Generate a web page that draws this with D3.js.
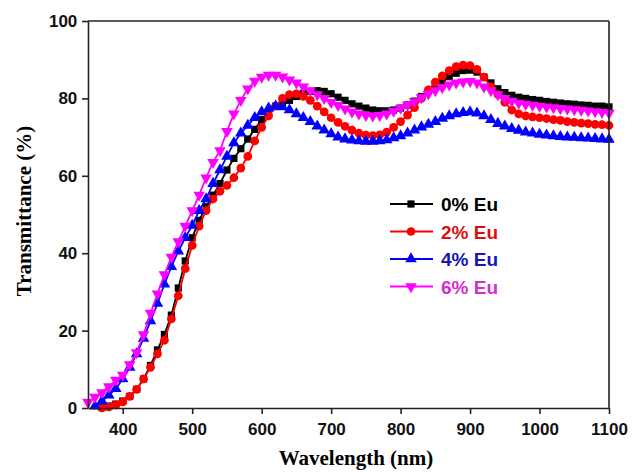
<!DOCTYPE html>
<html>
<head>
<meta charset="utf-8">
<script src="https://cdn.jsdelivr.net/npm/d3@7"></script>
<style>
  body { margin: 0; background: #fff; }
  svg { display: block; }
</style>
</head>
<body>
<script>
// Transmittance spectra, Eu doped films
var wl0 = d3.range(370, 1101, 10);   // 0% and 2% start at 370 nm
var wl4 = d3.range(360, 1101, 10);
var wl6 = d3.range(350, 1101, 10);

var eu0 = [0.2, 0.5, 1, 1.8, 3, 4.8, 7.5, 11, 15, 19, 24, 31, 38, 44, 48.5, 52, 55, 58, 61.5, 64.5,
  67, 69.5, 72, 74.5, 76.5, 78, 78.8, 79.5, 80.5, 81.3, 81.8, 82, 81.8, 81.2, 80.3, 79.5, 78.6, 78, 77.5, 77,
  76.8, 76.8, 77, 77.5, 78.3, 79.3, 80.5, 82, 83.3, 84.5, 85.6, 86.5, 87.2, 87.3, 86.8, 85.5, 84, 82.5, 81.5, 80.8,
  80.3, 80, 79.7, 79.5, 79.2, 79, 78.8, 78.6, 78.5, 78.3, 78.2, 78, 78, 77.8];
var eu2 = [0, 0.3, 0.8, 1.6, 3, 4.8, 7.5, 10.5, 14, 17.5, 23, 29, 36, 42, 47, 51, 54, 56, 57.5, 59.5,
  62, 65, 69, 72.5, 75.5, 78, 80, 81, 81.2, 80.5, 79.5, 78, 76.5, 75, 73.8, 72.8, 71.8, 71, 70.5, 70.4,
  70.6, 71.3, 72.5, 74, 75.7, 77.6, 80, 82.2, 84.2, 85.8, 87.2, 88.2, 88.6, 88.5, 87.5, 85.5, 83, 81, 79, 77,
  76, 75.5, 75.2, 75, 74.8, 74.5, 74.3, 74, 73.8, 73.6, 73.5, 73.3, 73.2, 73];
var eu4 = [0.5, 1.8, 3.3, 5, 7.5, 10.5, 14, 18, 22.5, 27, 32, 36.5, 40.5, 44, 47.2, 51, 54, 58, 61.5, 65,
  68.5, 71, 73, 75, 76.5, 77.5, 78, 77.8, 77, 76, 75, 74, 72.8, 71.8, 70.8, 70, 69.5, 69.2, 69, 68.9,
  68.9, 69, 69.3, 69.8, 70.3, 71, 71.8, 72.6, 73.3, 74, 74.8, 75.5, 76, 76.3, 76.5, 76.2, 75.5, 74.5, 73.5, 72.8,
  72.2, 71.7, 71.3, 71, 70.7, 70.5, 70.3, 70.1, 70, 69.9, 69.8, 69.7, 69.6, 69.5, 69.4];
var eu6 = [1.5, 2.8, 4, 5.5, 7.2, 8.5, 11.2, 14.3, 19, 24.5, 29.5, 34.5, 39, 43, 47, 51, 55, 59.5, 63.5, 66.5,
  71.5, 76, 79.5, 82.5, 84.5, 85.5, 86, 86, 85.6, 84.8, 84, 83, 82, 81, 80, 79, 78.2, 77.3, 76.5, 76,
  75.6, 75.5, 75.6, 76, 76.7, 77.5, 78.3, 79.2, 80.2, 81.2, 82, 82.8, 83.5, 84, 84.3, 84.4, 84, 83, 82, 81,
  80, 79.3, 78.8, 78.5, 78.3, 78, 77.8, 77.6, 77.4, 77.3, 77.1, 77, 76.8, 76.6, 76.4, 76.2];

var names = ["0% Eu", "2% Eu", "4% Eu", "6% Eu"];
var xTicks = [400, 500, 600, 700, 800, 900, 1000, 1100];
var yTicks = [0, 20, 40, 60, 80, 100];

var series = [
  { name: names[0], x: wl0, y: eu0, color: "#000000", text: "#000000", sym: d3.symbolSquare, size: 52, rot: 0 },
  { name: names[1], x: wl0, y: eu2, color: "#ff0000", text: "#dd1010", sym: d3.symbolCircle, size: 60, rot: 0 },
  { name: names[2], x: wl4, y: eu4, color: "#0000ff", text: "#1515b8", sym: d3.symbolTriangle, size: 58, rot: 0 },
  { name: names[3], x: wl6, y: eu6, color: "#ff00ff", text: "#d22ed2", sym: d3.symbolTriangle, size: 58, rot: 180 }
];

var W = 643, H = 476;
var m = { left: 88, right: 34, top: 21, bottom: 68 };

var svg = d3.select("body").append("svg").attr("width", W).attr("height", H);

var x = d3.scaleLinear().domain([350, 1100]).range([m.left, W - m.right]);
var y = d3.scaleLinear().domain([0, 100]).range([H - m.bottom, m.top]);

// lines and markers
var line = d3.line().x(function(d){ return x(d[0]); }).y(function(d){ return y(d[1]); });

series.forEach(function(s){
  var pts = s.x.map(function(w, i){ return [w, s.y[i]]; });
  svg.append("path").datum(pts)
    .attr("d", line)
    .attr("fill", "none")
    .attr("stroke", s.color)
    .attr("stroke-width", 1.8);
  svg.append("g").selectAll("path").data(pts).enter().append("path")
    .attr("d", d3.symbol().type(s.sym).size(s.size))
    .attr("transform", function(d){ return "translate(" + x(d[0]) + "," + y(d[1]) + ") rotate(" + s.rot + ")"; })
    .attr("fill", s.color);
});

// axes
var xAxis = svg.append("g").attr("transform", "translate(0," + (H - m.bottom) + ")")
  .call(d3.axisBottom(x).tickValues(xTicks).tickFormat(d3.format("d")).tickSize(6).tickSizeOuter(0));
var yAxis = svg.append("g").attr("transform", "translate(" + m.left + ",0)")
  .call(d3.axisLeft(y).tickValues(yTicks).tickFormat(d3.format("d")).tickSize(6).tickSizeOuter(0));

[xAxis, yAxis].forEach(function(a){
  a.select(".domain").attr("stroke", "#222").attr("stroke-width", 1.6);
  a.selectAll(".tick line").attr("stroke", "#222").attr("stroke-width", 1.6);
  a.selectAll(".tick text")
    .attr("font-family", "Liberation Sans, Arial, sans-serif")
    .attr("font-weight", "bold")
    .attr("font-size", 17)
    .attr("fill", "#111");
});
xAxis.selectAll(".tick text").attr("dy", "1.05em");
yAxis.selectAll(".tick text").attr("dx", "-0.1em");

// frame top and right
svg.append("line").attr("x1", m.left).attr("x2", W - m.right).attr("y1", m.top).attr("y2", m.top)
  .attr("stroke", "#222").attr("stroke-width", 1.6);
svg.append("line").attr("x1", W - m.right).attr("x2", W - m.right).attr("y1", m.top).attr("y2", H - m.bottom)
  .attr("stroke", "#222").attr("stroke-width", 1.6);

// axis titles
svg.append("text")
  .attr("x", 356).attr("y", 465)
  .attr("text-anchor", "middle")
  .attr("font-family", "Liberation Serif, Times New Roman, serif")
  .attr("font-weight", "bold").attr("font-size", 21)
  .text("Wavelength (nm)");

svg.append("text")
  .attr("transform", "translate(31,211) rotate(-90)")
  .attr("text-anchor", "middle")
  .attr("font-family", "Liberation Serif, Times New Roman, serif")
  .attr("font-weight", "bold").attr("font-size", 21)
  .text("Transmittance (%)");

// legend
var leg = svg.append("g");
series.forEach(function(s, i){
  var ly = 204 + i * 27.5;
  leg.append("line").attr("x1", 390).attr("x2", 433).attr("y1", ly).attr("y2", ly)
    .attr("stroke", s.color).attr("stroke-width", 1.8);
  leg.append("path")
    .attr("d", d3.symbol().type(s.sym).size(s.size))
    .attr("transform", "translate(411," + ly + ") rotate(" + s.rot + ")")
    .attr("fill", s.color);
  leg.append("text")
    .attr("x", 441).attr("y", ly + 7)
    .attr("font-family", "Liberation Sans, Arial, sans-serif")
    .attr("font-weight", "bold").attr("font-size", 19)
    .attr("fill", s.text)
    .text(s.name);
});
</script>
</body>
</html>
